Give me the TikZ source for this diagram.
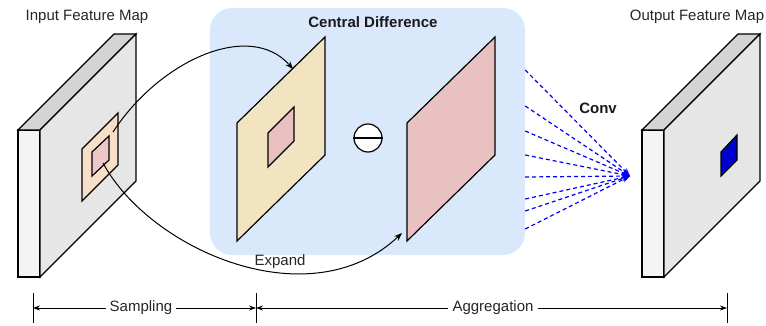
\documentclass[tikz,border=0pt]{standalone}
\usepackage{fontspec}
\setmainfont{Liberation Sans}
\usetikzlibrary{arrows.meta, positioning, calc}
\definecolor{cdblue}{RGB}{218, 232, 252}
\definecolor{mapfront}{RGB}{244, 244, 244}
\definecolor{mapside}{RGB}{230, 230, 230}
\definecolor{maptop}{RGB}{212, 212, 212}
\definecolor{patchorange}{RGB}{246, 222, 200}
\definecolor{patchpink}{RGB}{238, 200, 200}
\definecolor{diffyellow}{RGB}{242, 228, 192}
\definecolor{diffpink}{RGB}{234, 193, 193}
\definecolor{outblue}{RGB}{0, 0, 204}

\begin{document}
\begin{tikzpicture}[
    x=1pt, y=-1pt,
    face/.style={draw=black, line width=1.2pt, line join=miter},
    arrow/.style={-{Stealth[length=8pt, width=6pt]}, line width=1pt},
    conv/.style={-{Stealth[length=8pt, width=6pt]}, draw=blue, dash pattern=on 4pt off 3pt, line width=1.2pt},
    dim/.style={-{Stealth[length=7pt, width=5pt]}, line width=0.8pt},
    caption/.style={font=\fontsize{15}{18}\selectfont, text=black!85, inner sep=1pt},
    title/.style={font=\fontsize{15}{18}\selectfont\bfseries, text=black!90, inner sep=1pt}
]
    \useasboundingbox (0,0) rectangle (766,326);

    % Central difference block (background)
    \node[fill=cdblue, rounded corners=22pt, minimum width=315pt, minimum height=247pt, inner sep=0pt] (cd) at (367.5,131.5) {};
    \node[title] (cdtitle) at (373,22) {Central Difference};

    % Input feature map
    \filldraw[face, fill=mapfront] (18,130) rectangle (40,277);
    \filldraw[face, fill=maptop] (18,130) -- (114,34) -- (136,34) -- (40,130) -- cycle;
    \filldraw[face, fill=mapside] (40,130) -- (136,34) -- (136,181) -- (40,277) -- cycle;
    \filldraw[face, fill=patchorange] (82,149) -- (118,113) -- (118,165) -- (82,201) -- cycle;
    \filldraw[face, fill=patchpink] (92,152) -- (109,136) -- (109,160) -- (92,176) -- cycle;
    \node[caption] (inlabel) at (87,17) {Input Feature Map};

    % Neighbourhood and centre planes
    \filldraw[face, fill=diffyellow] (237,123) -- (325,37) -- (325,155) -- (237,241) -- cycle;
    \filldraw[face, fill=diffpink] (268,133) -- (294,107) -- (294,141) -- (268,167) -- cycle;
    \filldraw[face, fill=diffpink] (407,123) -- (495,37) -- (495,155) -- (407,241) -- cycle;
    \node[draw, circle, fill=white, line width=1.2pt, minimum size=28pt, inner sep=0pt] (minus) at (368,138) {};
    \draw[line width=1.2pt] (minus.west) -- (minus.east);

    % Sampling arrows
    \coordinate (patchsrc) at (113,132);
    \coordinate (centersrc) at (103,163);
    \coordinate (yellowin) at (293,69);
    \coordinate (pinkin) at (402,233);
    \draw[arrow] (patchsrc) .. controls (160,60) and (250,20) .. (yellowin);
    \draw[arrow] (centersrc) .. controls (150,250) and (310,320) .. (pinkin);
    \node[caption] (expandlabel) at (280,262) {Expand};

    % Conv lines
    \coordinate (convtip) at (630,176);
    \foreach \y in {70,106,131,155,177,199,211,229}
        \draw[conv] (cd.east |- 0,\y) -- (convtip);
    \node[title] (convlabel) at (598,108) {Conv};

    % Output feature map
    \filldraw[face, fill=mapfront] (642,130) rectangle (664,277);
    \filldraw[face, fill=maptop] (642,130) -- (738,34) -- (760,34) -- (664,130) -- cycle;
    \filldraw[face, fill=mapside] (664,130) -- (760,34) -- (760,181) -- (664,277) -- cycle;
    \filldraw[face, fill=outblue] (721,152) -- (737,135) -- (737,160) -- (721,176) -- cycle;
    \node[caption] (outlabel) at (697,17) {Output Feature Map};

    % Dimension lines
    \coordinate (tickA) at (33,308);
    \coordinate (tickB) at (256,308);
    \coordinate (tickC) at (727,308);
    \foreach \t in {tickA, tickB, tickC}
        \draw[line width=1pt] ($(\t)+(0,-15)$) -- ($(\t)+(0,15)$);
    \node[caption, inner sep=4pt] (sampling) at (141,308) {Sampling};
    \node[caption, inner sep=4pt] (aggregation) at (493,308) {Aggregation};
    \draw[dim] (sampling.west) -- (tickA);
    \draw[dim] (sampling.east) -- (tickB);
    \draw[dim] (aggregation.west) -- (tickB);
    \draw[dim] (aggregation.east) -- (tickC);
\end{tikzpicture}
\end{document}
